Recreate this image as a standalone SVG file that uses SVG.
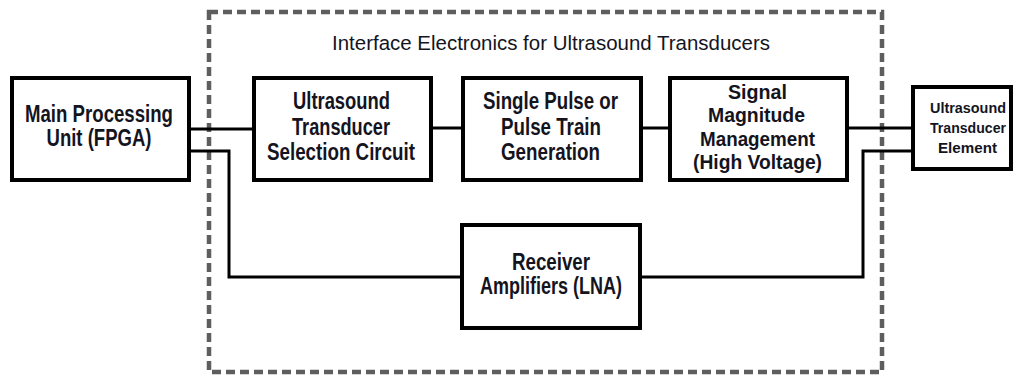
<svg xmlns="http://www.w3.org/2000/svg" width="1014" height="378" viewBox="0 0 1014 378">
<style>
.box{fill:#fff;stroke:#000;stroke-width:4}
.wire{fill:none;stroke:#000;stroke-width:3}
.frame{fill:none;stroke:#5e5e5e;stroke-width:4.5;stroke-dasharray:9 5}
.t{font-family:"Liberation Sans Narrow","Arial Narrow","Liberation Sans",Arial,sans-serif;font-weight:bold;font-size:23px;fill:#14141e;text-anchor:middle}
.m{font-size:21px}
.s{font-family:"Liberation Sans",Arial,sans-serif;font-weight:bold;font-size:15px;fill:#14141e;text-anchor:middle}
.title{font-family:"Liberation Sans",Arial,sans-serif;font-size:20.5px;fill:#14141e}
</style>
<rect width="1014" height="378" fill="#fff"/>
<g id="frame">
<rect class="frame" x="209" y="12" width="673" height="360"/>
<text class="title" x="332" y="50" textLength="438" lengthAdjust="spacingAndGlyphs">Interface Electronics for Ultrasound Transducers</text>
</g>
<g id="connectors">
<path class="wire" d="M191 129H252"/>
<path class="wire" d="M433 128H461"/>
<path class="wire" d="M643 128H668"/>
<path class="wire" d="M849 128H911"/>
<path class="wire" d="M191 151H229V277H460"/>
<path class="wire" d="M911 151H863V277H642"/>
</g>
<g id="mpu">
<rect class="box" x="12" y="78" width="177" height="102"/>
<text class="t" x="99" y="122" textLength="148" lengthAdjust="spacingAndGlyphs">Main Processing</text>
<text class="t" x="99" y="146" textLength="105" lengthAdjust="spacingAndGlyphs">Unit (FPGA)</text>
</g>
<g id="selection">
<rect class="box" x="254" y="78" width="177" height="102"/>
<text class="t" x="341.5" y="109" textLength="97" lengthAdjust="spacingAndGlyphs">Ultrasound</text>
<text class="t" x="341" y="135" textLength="98" lengthAdjust="spacingAndGlyphs">Transducer</text>
<text class="t" x="341" y="160" textLength="148" lengthAdjust="spacingAndGlyphs">Selection Circuit</text>
</g>
<g id="pulse">
<rect class="box" x="463" y="78" width="178" height="102"/>
<text class="t" x="550.5" y="109" textLength="135" lengthAdjust="spacingAndGlyphs">Single Pulse or</text>
<text class="t" x="551" y="135" textLength="100" lengthAdjust="spacingAndGlyphs">Pulse Train</text>
<text class="t" x="550.5" y="160" textLength="99" lengthAdjust="spacingAndGlyphs">Generation</text>
</g>
<g id="magnitude">
<rect class="box" x="670" y="78" width="177" height="102"/>
<text class="t m" x="757.5" y="99" textLength="59" lengthAdjust="spacingAndGlyphs">Signal</text>
<text class="t m" x="756.5" y="122" textLength="97" lengthAdjust="spacingAndGlyphs">Magnitude</text>
<text class="t m" x="757.5" y="146" textLength="115" lengthAdjust="spacingAndGlyphs">Management</text>
<text class="t m" x="757.5" y="169" textLength="129" lengthAdjust="spacingAndGlyphs">(High Voltage)</text>
</g>
<g id="element">
<rect class="box" x="913" y="87" width="98" height="82"/>
<text class="s" x="968" y="113" textLength="76" lengthAdjust="spacingAndGlyphs">Ultrasound</text>
<text class="s" x="968" y="133" textLength="76" lengthAdjust="spacingAndGlyphs">Transducer</text>
<text class="s" x="967.5" y="153" textLength="59" lengthAdjust="spacingAndGlyphs">Element</text>
</g>
<g id="receiver">
<rect class="box" x="462" y="225" width="178" height="103"/>
<text class="t" x="551" y="270" textLength="78" lengthAdjust="spacingAndGlyphs">Receiver</text>
<text class="t" x="551" y="294" textLength="142" lengthAdjust="spacingAndGlyphs">Amplifiers (LNA)</text>
</g>
</svg>
